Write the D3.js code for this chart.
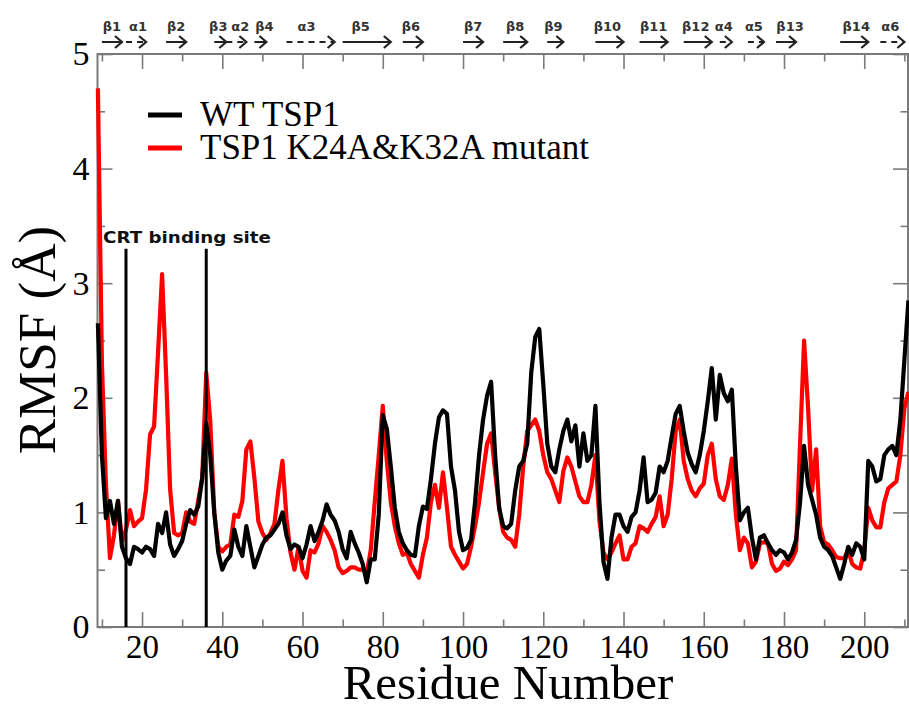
<!DOCTYPE html>
<html>
<head>
<meta charset="utf-8">
<script src="https://cdn.jsdelivr.net/npm/d3@7"></script>
<style>
  html, body { margin: 0; padding: 0; background: #fff; }
  svg { display: block; }
</style>
</head>
<body>
<svg id="chart" width="909" height="709"></svg>
<script>
// ---------------- DATA ----------------
const firstResidue = 9;   // residue number of the first RMSF value

const wtRMSF = [
  2.65,1.5,0.95,1.1,0.9,1.1,0.7,0.6,0.55,0.7,
  0.68,0.65,0.7,0.68,0.62,0.9,0.82,1.0,0.72,0.62,
  0.68,0.75,0.9,1.02,0.98,1.05,1.3,1.78,1.5,1.0,
  0.65,0.5,0.58,0.62,0.85,0.7,0.62,0.88,0.7,0.52,
  0.62,0.72,0.78,0.8,0.85,0.9,1.0,0.8,0.68,0.72,
  0.7,0.6,0.72,0.88,0.75,0.83,0.93,1.07,0.98,0.93,
  0.83,0.68,0.6,0.83,0.73,0.65,0.55,0.39,0.59,0.59,
  0.98,1.85,1.73,1.4,1.04,0.83,0.73,0.67,0.63,0.62,
  0.88,1.05,1.03,1.29,1.6,1.83,1.89,1.86,1.4,1.19,
  0.83,0.67,0.69,0.76,1.09,1.5,1.81,2.02,2.14,1.5,
  1.04,0.88,0.86,0.9,1.19,1.4,1.45,1.6,2.22,2.53,
  2.6,2.12,1.6,1.4,1.35,1.55,1.71,1.81,1.62,1.76,
  1.4,1.69,1.45,1.5,1.93,1.09,0.57,0.42,0.78,0.98,
  0.98,0.88,0.83,0.96,1.0,1.19,1.48,1.09,1.11,1.17,
  1.4,1.35,1.45,1.66,1.86,1.93,1.71,1.52,1.42,1.35,
  1.5,1.71,1.97,2.26,1.81,2.2,2.04,1.97,2.07,1.4,
  0.93,1.0,1.04,0.78,0.59,0.78,0.8,0.73,0.67,0.63,
  0.67,0.65,0.59,0.65,0.76,1.09,1.58,1.24,1.11,0.98,
  0.78,0.7,0.67,0.62,0.52,0.42,0.55,0.7,0.63,0.73,
  0.7,0.59,1.45,1.4,1.27,1.29,1.5,1.55,1.58,1.5,
  1.81,2.33,2.85
];

const mutantRMSF = [
  4.7,2.3,1.25,0.6,0.8,1.1,0.75,0.85,1.02,0.88,
  0.92,0.95,1.2,1.68,1.75,2.4,3.08,2.2,1.2,0.82,
  0.8,0.82,1.0,0.92,0.9,1.1,1.3,2.22,1.8,1.0,
  0.7,0.66,0.7,0.72,0.98,0.96,1.1,1.55,1.62,1.3,
  0.92,0.82,0.76,0.82,0.9,1.2,1.45,0.95,0.65,0.5,
  0.7,0.49,0.43,0.67,0.65,0.73,0.88,0.83,0.76,0.67,
  0.52,0.47,0.49,0.52,0.52,0.5,0.5,0.47,0.67,1.09,
  1.5,1.93,1.45,1.09,0.88,0.73,0.63,0.65,0.55,0.49,
  0.43,0.63,0.78,1.09,1.24,1.04,1.35,1.04,0.7,0.63,
  0.57,0.51,0.55,0.7,0.88,1.09,1.35,1.6,1.69,1.35,
  1.04,0.83,0.78,0.76,0.7,0.98,1.4,1.71,1.76,1.81,
  1.71,1.5,1.35,1.29,1.19,1.09,1.36,1.48,1.4,1.27,
  1.14,1.09,1.09,1.24,1.5,0.93,0.65,0.59,0.65,0.73,
  0.8,0.59,0.59,0.7,0.73,0.88,0.86,0.83,0.9,0.96,
  1.14,0.88,0.98,1.29,1.71,1.81,1.45,1.29,1.19,1.14,
  1.21,1.25,1.5,1.6,1.29,1.14,1.11,1.24,1.47,0.98,
  0.67,0.78,0.73,0.52,0.57,0.73,0.74,0.73,0.55,0.49,
  0.51,0.57,0.54,0.59,0.67,1.6,2.5,1.91,1.19,1.55,
  0.88,0.74,0.72,0.67,0.61,0.6,0.6,0.67,0.55,0.52,
  0.51,0.67,1.04,0.93,0.87,0.87,1.09,1.21,1.24,1.27,
  1.5,1.91,2.05
];

const seriesNames = ["WT TSP1", "TSP1 K24A&K32A mutant"];
const seriesColors = ["#000000", "#ff0000"];

const xMajorTicks = [20, 40, 60, 80, 100, 120, 140, 160, 180, 200];
const xMinorTicks = [10, 30, 50, 70, 90, 110, 130, 150, 170, 190, 210];
const yMajorTicks = [0, 1, 2, 3, 4, 5];
const yMinorTicks = [0.5, 1.5, 2.5, 3.5, 4.5];

const crtSites = [16, 36];
const crtLabel = "CRT binding site";
const crtTop = 3.3;

// secondary structure elements (residue ranges)
const ssNames = ["β1","α1","β2","β3","α2","β4","α3","β5","β6","β7","β8","β9","β10","β11","β12","α4","α5","β13","β14","α6"];
const ssStart = [10,16,26,38,41,48,56,70,85,100,110,121,133,144,155,164,171,178,194,204];
const ssEnd   = [15,21,31,41,46,51,68,82,90,105,116,125,140,151,162,167,175,183,201,210];
const ssLabelAt = [12.5,19,28.5,39,44.5,50.5,61,74.5,87,102.5,113,122.5,136,147.5,158,165,172.5,181.5,198,206.5];

// ---------------- CHART ----------------
const svg = d3.select("#chart");
const x = d3.scaleLinear().domain([8.9, 210.9]).range([97.5, 908]);
const y = d3.scaleLinear().domain([0, 5]).range([627, 54]);

const serif = "'Liberation Serif', 'Times New Roman', Times, serif";
const sans = "'DejaVu Sans', Verdana, sans-serif";
const axisGrey = "#7a7a7a";

// frame
svg.append("rect")
  .attr("x", x.range()[0]).attr("y", y.range()[1])
  .attr("width", x.range()[1] - x.range()[0])
  .attr("height", y.range()[0] - y.range()[1])
  .attr("fill", "none").attr("stroke", axisGrey).attr("stroke-width", 2);

function styleAxis(g) {
  g.select(".domain").remove();
  g.selectAll(".tick line").attr("stroke", axisGrey).attr("stroke-width", 1.6);
  g.selectAll(".tick text").style("font-family", serif).attr("fill", "#000");
}

// bottom
svg.append("g").attr("transform", `translate(0,${y(0)})`)
  .call(d3.axisBottom(x).tickValues(xMajorTicks).tickSize(-15).tickPadding(8).tickFormat(d3.format("d")))
  .call(styleAxis)
  .call(g => g.selectAll(".tick text").style("font-size", "33px"));
svg.append("g").attr("transform", `translate(0,${y(0)})`)
  .call(d3.axisBottom(x).tickValues(xMinorTicks).tickSize(-7.5).tickFormat(""))
  .call(styleAxis);
// top
svg.append("g").attr("transform", `translate(0,${y(5)})`)
  .call(d3.axisTop(x).tickValues(xMajorTicks).tickSize(-15).tickFormat(""))
  .call(styleAxis);
svg.append("g").attr("transform", `translate(0,${y(5)})`)
  .call(d3.axisTop(x).tickValues(xMinorTicks).tickSize(-7.5).tickFormat(""))
  .call(styleAxis);
// left
svg.append("g").attr("transform", `translate(${x.range()[0]},0)`)
  .call(d3.axisLeft(y).tickValues(yMajorTicks).tickSize(-15).tickPadding(8).tickFormat(d3.format("d")))
  .call(styleAxis)
  .call(g => g.selectAll(".tick text").style("font-size", "34px"));
svg.append("g").attr("transform", `translate(${x.range()[0]},0)`)
  .call(d3.axisLeft(y).tickValues(yMinorTicks).tickSize(-7.5).tickFormat(""))
  .call(styleAxis);
// right
svg.append("g").attr("transform", `translate(${x.range()[1]},0)`)
  .call(d3.axisRight(y).tickValues(yMajorTicks).tickSize(-15).tickFormat(""))
  .call(styleAxis);
svg.append("g").attr("transform", `translate(${x.range()[1]},0)`)
  .call(d3.axisRight(y).tickValues(yMinorTicks).tickSize(-7.5).tickFormat(""))
  .call(styleAxis);

// data lines (mutant first, WT on top)
const line = d3.line()
  .x((d, i) => x(firstResidue + i))
  .y(d => y(d));

svg.append("path").datum(mutantRMSF)
  .attr("d", line).attr("fill", "none")
  .attr("stroke", seriesColors[1]).attr("stroke-width", 4.2).attr("stroke-linejoin", "round");
svg.append("path").datum(wtRMSF)
  .attr("d", line).attr("fill", "none")
  .attr("stroke", seriesColors[0]).attr("stroke-width", 4.2).attr("stroke-linejoin", "round");

// CRT binding site markers
svg.selectAll(".crt").data(crtSites).enter().append("line")
  .attr("x1", d => x(d)).attr("x2", d => x(d))
  .attr("y1", y(crtTop)).attr("y2", y(0))
  .attr("stroke", "#000").attr("stroke-width", 3);
svg.append("text")
  .attr("x", 103).attr("y", 243)
  .style("font-family", sans)
  .style("font-weight", "bold").style("font-size", "15px")
  .attr("textLength", 168).attr("lengthAdjust", "spacingAndGlyphs")
  .attr("fill", "#111")
  .text(crtLabel);

// legend
const legendY = [115, 148];
seriesNames.forEach((name, i) => {
  svg.append("line")
    .attr("x1", 148).attr("x2", 182)
    .attr("y1", legendY[i]).attr("y2", legendY[i])
    .attr("stroke", seriesColors[i]).attr("stroke-width", 5);
  svg.append("text")
    .attr("x", 200).attr("y", legendY[i] + 11)
    .style("font-family", serif).style("font-size", "35px")
    .attr("fill", "#000").text(name);
});

// axis titles
svg.append("text")
  .attr("x", 508).attr("y", 699)
  .attr("text-anchor", "middle")
  .style("font-family", serif).style("font-size", "49px")
  .text("Residue Number");
svg.append("text")
  .attr("transform", "translate(55,340) rotate(-90)")
  .attr("text-anchor", "middle")
  .style("font-family", serif).style("font-size", "53px")
  .text("RMSF (Å)");

// secondary structure annotation
const ssY = 42;
const ssG = svg.append("g");
ssNames.forEach((name, i) => {
  const isHelix = name.startsWith("α");
  const x0 = x(ssStart[i]), x1 = x(ssEnd[i]);
  ssG.append("line")
    .attr("x1", x0).attr("x2", x1 - 1)
    .attr("y1", ssY).attr("y2", ssY)
    .attr("stroke", "#222").attr("stroke-width", 2)
    .attr("stroke-dasharray", isHelix ? "6,5" : null);
  ssG.append("path")
    .attr("d", `M${x1 - 7},${ssY - 6} L${x1},${ssY} L${x1 - 7},${ssY + 6}`)
    .attr("fill", "none").attr("stroke", "#222").attr("stroke-width", 2.2);
  ssG.append("text")
    .attr("x", x(ssLabelAt[i])).attr("y", 31)
    .attr("text-anchor", "middle")
    .style("font-family", sans)
    .style("font-weight", "bold").style("font-size", "13px")
    .attr("fill", "#333").text(name);
});
</script>
</body>
</html>
